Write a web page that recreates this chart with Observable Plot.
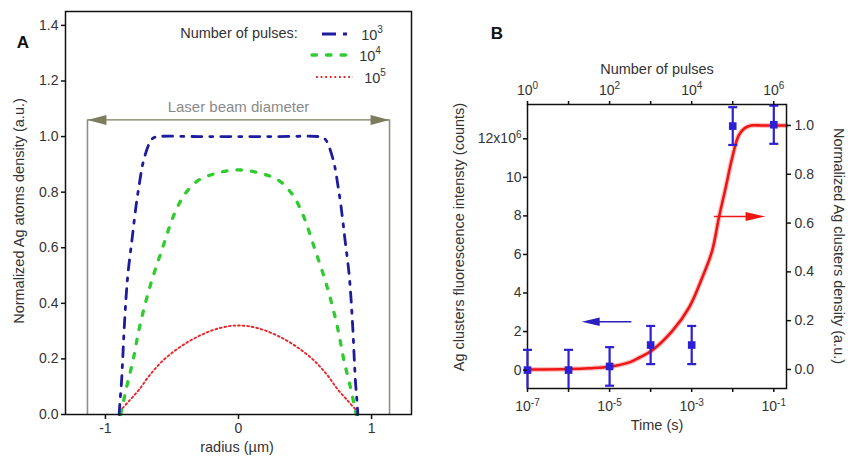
<!DOCTYPE html>
<html><head><meta charset="utf-8">
<script src="https://cdn.jsdelivr.net/npm/d3@7"></script>
<script src="https://cdn.jsdelivr.net/npm/@observablehq/plot@0.6"></script>
<style>
html,body{margin:0;padding:0;background:#fff;}
#wrap{position:relative;width:848px;height:457px;overflow:hidden;font-family:"Liberation Sans",Arial,sans-serif;color:#333;}
#wrap > svg{position:absolute;}
.lbl{position:absolute;white-space:nowrap;font-size:14.5px;color:#333;line-height:1;}
.lbl sup{font-size:10px;vertical-align:0;position:relative;top:-7px;}
.rot{transform:translate(-50%,-50%) rotate(-90deg);}
.rotr{transform:translate(-50%,-50%) rotate(90deg);}
.ctr{transform:translate(-50%,-50%);}
</style></head><body><div id="wrap"></div>
<script>
// ---------- Panel A data ----------
const radiusBlue  = [-0.897,-0.89,-0.88,-0.87,-0.86,-0.845,-0.83,-0.80,-0.77,-0.745,-0.72,-0.685,-0.66,-0.64,-0.60,-0.3,0,0.3,0.60,0.64,0.66,0.685,0.72,0.745,0.77,0.80,0.83,0.845,0.86,0.87,0.88,0.89,0.897];
const densityBlue = [0,0.05,0.11,0.20,0.30,0.42,0.51,0.63,0.75,0.83,0.90,0.958,0.985,0.995,1.0,1.0,1.0,1.0,1.0,0.995,0.985,0.958,0.90,0.83,0.75,0.63,0.51,0.42,0.30,0.20,0.11,0.05,0];
const radiusGreen  = [-0.885,-0.84,-0.79,-0.75,-0.70,-0.64,-0.57,-0.5,-0.45,-0.4,-0.3,-0.15,0,0.15,0.3,0.4,0.45,0.5,0.57,0.64,0.70,0.75,0.79,0.84,0.885];
const densityGreen = [0,0.1,0.2,0.3,0.4,0.5,0.6,0.70,0.755,0.795,0.843,0.87,0.88,0.87,0.843,0.795,0.755,0.70,0.6,0.5,0.4,0.3,0.2,0.1,0];
const radiusRed  = [-0.895,-0.82,-0.746,-0.67,-0.57,-0.445,-0.32,-0.19,-0.07,0,0.07,0.19,0.32,0.445,0.57,0.67,0.746,0.82,0.895];
const densityRed = [0.01,0.05,0.09,0.14,0.193,0.241,0.277,0.304,0.318,0.32,0.318,0.304,0.277,0.241,0.193,0.14,0.09,0.05,0.01];
const beamEdges = [-1.135, 1.135];
const beamLevel = 1.06;
const beamText = "Laser beam diameter";
const beamTextLevel = 1.105;
const legendTitle = "Number of pulses:";
const legendLabels = ["10<sup>3</sup>","10<sup>4</sup>","10<sup>5</sup>"];
const xTicksA = [-1, 0, 1];
const yTicksA = [0,0.2,0.4,0.6,0.8,1.0,1.2,1.4];

// ---------- Panel B data ----------
const timeS      = [1e-7,1e-6,1e-5,1e-4,1e-3,1e-2,1e-1];
const intensity  = [0,0,0.19,1.3,1.3,12.66,12.73];   // x10^6 counts
const intensErr  = [1.05,1.05,1.0,0.99,0.99,0.98,0.99];
const fitTime    = [1e-7,1e-6,3.16e-6,1e-5,3.16e-5,5.37e-5,1.12e-4,3.43e-4,8.71e-4,1.82e-3,3.16e-3,4.62e-3,6.76e-3,9.77e-3,1.41e-2,2.0e-2,2.82e-2,5.0e-2,1e-1,0.204];
const fitDensity = [0,0.002,0.005,0.011,0.03,0.049,0.08,0.159,0.255,0.378,0.487,0.624,0.747,0.87,0.96,0.99,1.0,1.0,1.0,1.0];
const timeExp          = [-7,-6,-5,-4,-3,-2,-1];
const timeTickLabels   = ["10⁻⁷","","10⁻⁵","","10⁻³","","10⁻¹"];
const pulseTickLabels  = ["10⁰","","10²","","10⁴","","10⁶"];
const intensityTicks   = [0,2,4,6,8,10,12];
const intensityLabels  = ["0","2","4","6","8","10","12x10⁶"];
const densityTicks     = [0,0.2,0.4,0.6,0.8,1.0];
const blueArrow = {t1: 3.39e-5, t2: 2.09e-6, y: 2.51};   // tail, tip
const redArrow  = {t1: 3.51e-3, t2: 6.3e-2, y: 0.627};

const timeTicks = timeExp.map(e => Math.pow(10, e));
const FONT = '"Liberation Sans", Arial, sans-serif';
const wrap = document.getElementById("wrap");
const labelFor = arr => d => arr[timeExp.indexOf(Math.round(Math.log10(d)))] ?? "";

function tri(dir, L, H) {
  return {draw(ctx) { ctx.moveTo(0,0); ctx.lineTo(-dir*L, -H/2); ctx.lineTo(-dir*L, H/2); ctx.closePath(); }};
}
const capSym = {draw(ctx){ ctx.moveTo(-4.5,0); ctx.lineTo(4.5,0); }};

// ---------- Panel A ----------
const olive = "#7c7c5e";
const A = Plot.plot({
  width: 424, height: 457,
  marginLeft: 65, marginRight: 13, marginTop: 11, marginBottom: 43,
  style: {fontFamily: FONT, fontSize: "14px", color: "#333", background: "transparent", overflow: "visible"},
  x: {domain: [-1.3, 1.3]},
  y: {domain: [0, 1.45]},
  marks: [
    Plot.ruleX(beamEdges, {x: d => d, y1: 0, y2: beamLevel, stroke: "#8f8f88", strokeWidth: 1.6}),
    Plot.link([beamEdges], {x1: d => d[0], x2: d => d[1], y1: beamLevel, y2: beamLevel, stroke: olive, strokeWidth: 1.4}),
    Plot.dot([beamEdges[0]], {x: d => d, y: beamLevel, symbol: tri(-1, 19, 10), fill: olive, stroke: "none"}),
    Plot.dot([beamEdges[1]], {x: d => d, y: beamLevel, symbol: tri(1, 19, 10), fill: olive, stroke: "none"}),
    Plot.text([beamText], {x: 0, y: beamTextLevel, text: d => d, fill: "#8a8a8a", fontSize: 15}),
    Plot.line(radiusRed.map((r,i)=>({r, v: densityRed[i]})), {x: "r", y: "v", stroke: "#e8262a", strokeWidth: 1.9, strokeDasharray: "1.8,2.8", curve: "catmull-rom"}),
    Plot.line(radiusGreen.map((r,i)=>({r, v: densityGreen[i]})), {x: "r", y: "v", stroke: "#2ecc2e", strokeWidth: 3.3, strokeDasharray: "4.5,10", strokeLinecap: "round", curve: "catmull-rom"}),
    Plot.line(radiusBlue.map((r,i)=>({r, v: densityBlue[i]})), {x: "r", y: "v", stroke: "#1c1c9c", strokeWidth: 2.8, strokeDasharray: "10,8,3,8", curve: "catmull-rom"}),
    Plot.frame({stroke: "#111", strokeWidth: 1.5}),
    Plot.axisY({ticks: yTicksA, tickSize: 4, tickPadding: 3, tickFormat: d3.format(".1f"), label: null, stroke: "#111", strokeWidth: 1.5, fill: "#333"}),
    Plot.axisX({ticks: xTicksA, tickSize: 5, tickPadding: 4, tickFormat: d => String(d), label: null, stroke: "#111", strokeWidth: 1.5, fill: "#333"})
  ]
});
A.style.left = "0px"; A.style.top = "0px";
wrap.appendChild(A);

// ---------- Panel B ----------
const common = {
  width: 424, height: 457,
  marginLeft: 103, marginRight: 62, marginTop: 104, marginBottom: 69,
  style: {fontFamily: FONT, fontSize: "14px", color: "#333", background: "transparent", overflow: "visible"},
  x: {type: "log", domain: [1e-7, 0.204], axis: null}
};
// layer with right axis (normalized density)
const C = Plot.plot({
  ...common,
  y: {domain: [-0.078, 1.086]},
  marks: [
    Plot.line(fitTime.map((t,i)=>({t, v: fitDensity[i]})), {x: "t", y: "v", stroke: "#f03030", strokeOpacity: 0.3, strokeWidth: 5, curve: "catmull-rom"}),
    Plot.line(fitTime.map((t,i)=>({t, v: fitDensity[i]})), {x: "t", y: "v", stroke: "#ee1515", strokeWidth: 2.6, curve: "catmull-rom"}),
    Plot.link([redArrow], {x1: "t1", x2: d => d.t2 / 1.6, y1: "y", y2: "y", stroke: "#ee1515", strokeWidth: 1.4}),
    Plot.dot([redArrow], {x: "t2", y: "y", symbol: tri(1, 20, 9), fill: "#ee1515", stroke: "none"}),
    Plot.axisY({anchor: "right", ticks: densityTicks, tickSize: 4, tickPadding: 4, tickFormat: d3.format(".1f"), label: null, stroke: "#111", strokeWidth: 1.5, fill: "#333"})
  ]
});
C.style.left = "424px"; C.style.top = "0px";
wrap.appendChild(C);

// main layer (fluorescence intensity)
const yMinB = -0.955;
const pts = timeS.map((t,i)=>({t, v: intensity[i], lo: Math.max(intensity[i]-intensErr[i], yMinB), hi: intensity[i]+intensErr[i], loRaw: intensity[i]-intensErr[i]}));
const blue = "#2d1fd4";
const B = Plot.plot({
  ...common,
  y: {domain: [yMinB, 13.78]},
  marks: [
    Plot.frame({stroke: "#111", strokeWidth: 1.5}),
    Plot.link([blueArrow], {x1: "t1", x2: d => d.t2 * 1.6, y1: "y", y2: "y", stroke: "#2a1fbf", strokeWidth: 1.4}),
    Plot.dot([blueArrow], {x: "t2", y: "y", symbol: tri(-1, 18, 8.5), fill: "#2a1fbf", stroke: "none"}),
    Plot.ruleX(pts, {x: "t", y1: "lo", y2: "hi", stroke: blue, strokeWidth: 2.2}),
    Plot.dot(pts, {x: "t", y: "hi", symbol: capSym, stroke: blue, strokeWidth: 2.2, fill: "none"}),
    Plot.dot(pts.filter(d => d.loRaw >= yMinB), {x: "t", y: "lo", symbol: capSym, stroke: blue, strokeWidth: 2.2, fill: "none"}),
    Plot.dot(pts, {x: "t", y: "v", symbol: "square", r: 4.3, fill: blue, stroke: "none"}),
    Plot.axisX({anchor: "bottom", ticks: timeTicks, tickSize: 4, tickPadding: 9, tickFormat: labelFor(timeTickLabels), label: null, stroke: "#111", strokeWidth: 1.5, fill: "#333"}),
    Plot.axisX({anchor: "top", ticks: timeTicks, tickSize: 4, tickPadding: 6, tickFormat: labelFor(pulseTickLabels), label: null, stroke: "#111", strokeWidth: 1.5, fill: "#333"}),
    Plot.axisY({anchor: "left", ticks: intensityTicks, tickSize: 4, tickPadding: 2, tickFormat: d => intensityLabels[intensityTicks.indexOf(d)] ?? "", label: null, stroke: "#111", strokeWidth: 1.5, fill: "#333"})
  ]
});
B.style.left = "424px"; B.style.top = "0px";
wrap.appendChild(B);

// render superscript characters in tick labels as raised small digits
const supMap = {"⁰":"0","¹":"1","²":"2","³":"3","⁴":"4","⁵":"5","⁶":"6","⁷":"7","⁸":"8","⁹":"9","⁻":"-"};
B.querySelectorAll("text").forEach(t => {
  const s = t.textContent;
  const m = s.match(/^(.*?)([⁰¹²³⁴⁵⁶⁷⁸⁹⁻]+)$/);
  if (!m) return;
  t.textContent = "";
  const ns = "http://www.w3.org/2000/svg";
  const a = document.createElementNS(ns, "tspan"); a.textContent = m[1];
  const b = document.createElementNS(ns, "tspan"); b.textContent = [...m[2]].map(c => supMap[c]).join("");
  b.setAttribute("font-size", "10"); b.setAttribute("dy", "-0.55em");
  t.appendChild(a); t.appendChild(b);
});

// ---------- Legend (panel A) ----------
const ns = "http://www.w3.org/2000/svg";
const leg = document.createElementNS(ns, "svg");
leg.setAttribute("width", 848); leg.setAttribute("height", 457);
leg.style.left = "0px"; leg.style.top = "0px"; leg.style.pointerEvents = "none";
const legendStyles = [
  {x1: 322, x2: 347, y: 34, stroke: "#1c1c9c", w: 2.8, dash: "14,7,4,50", cap: "butt"},
  {x1: 312, x2: 348, y: 55, stroke: "#2ecc2e", w: 3.3, dash: "4.5,10", cap: "round"},
  {x1: 316, x2: 353, y: 77, stroke: "#e8262a", w: 1.9, dash: "1.8,2.8", cap: "butt"}
];
legendStyles.forEach(s => {
  const l = document.createElementNS(ns, "line");
  l.setAttribute("x1", s.x1); l.setAttribute("x2", s.x2); l.setAttribute("y1", s.y); l.setAttribute("y2", s.y);
  l.setAttribute("stroke", s.stroke); l.setAttribute("stroke-width", s.w);
  l.setAttribute("stroke-dasharray", s.dash); l.setAttribute("stroke-linecap", s.cap);
  leg.appendChild(l);
});
wrap.appendChild(leg);

function label(html, x, y, cls, extra) {
  const d = document.createElement("div");
  d.className = "lbl " + cls;
  d.innerHTML = html;
  d.style.left = x + "px"; d.style.top = y + "px";
  if (extra) Object.assign(d.style, extra);
  wrap.appendChild(d);
}
label(legendTitle, 239, 33, "ctr");
label(legendLabels[0], 372, 35, "ctr");
label(legendLabels[1], 370, 56, "ctr");
label(legendLabels[2], 375, 78, "ctr");
label("A", 23, 42, "ctr", {fontSize: "17px", fontWeight: "bold", color: "#111"});
label("B", 497, 33, "ctr", {fontSize: "17px", fontWeight: "bold", color: "#111"});
label("Normalized Ag atoms density (a.u.)", 19, 211, "rot");
label("radius (µm)", 237, 447, "ctr");
label("Number of pulses", 657, 69, "ctr");
label("Time (s)", 657, 425, "ctr");
label("Ag clusters fluorescence intensty (counts)", 459, 237, "rot");
label("Normalized Ag clusters density (a.u.)", 839, 246, "rotr");
</script>
</body></html>
